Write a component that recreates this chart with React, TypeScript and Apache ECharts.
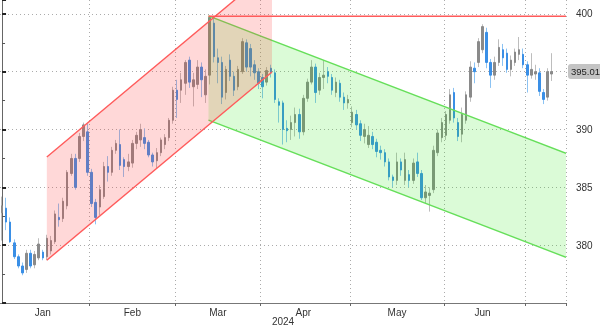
import React, { useEffect, useRef } from 'react';
import * as echarts from 'echarts';

// Each candle: [open, close, low, high]
const janCandles = [
  [382.8, 383.4, 380.4, 384.2], [383.2, 382.0, 381.3, 384.1], [382.0, 380.3, 380.2, 382.4], [380.2, 379.0, 378.8, 380.5],
  [379.0, 378.2, 378.0, 379.2], [378.2, 377.6, 377.4, 378.5], [377.9, 379.3, 377.6, 379.6], [379.3, 378.2, 378.0, 379.6],
  [378.3, 379.2, 378.0, 379.5], [378.9, 380.1, 378.7, 380.6], [379.4, 378.9, 378.7, 379.6], [379.0, 380.6, 378.7, 380.9],
  [379.5, 380.4, 379.2, 380.8], [380.3, 382.7, 380.1, 383.0], [382.4, 382.2, 381.6, 383.6], [382.3, 383.8, 382.0, 384.1],
  [383.4, 386.3, 383.1, 386.5], [386.2, 387.5, 386.0, 387.9], [387.5, 385.0, 384.8, 387.9], [387.5, 389.4, 387.2, 389.7],
  [389.4, 390.4, 389.0, 390.6], [389.8, 386.3, 386.0, 390.5],
];
const febCandles = [
  [386.3, 383.6, 383.3, 386.6], [383.7, 382.4, 381.8, 384.0], [383.3, 384.8, 382.6, 385.2], [384.2, 386.8, 384.0, 387.2],
  [386.8, 386.3, 385.5, 387.7], [386.3, 388.2, 386.0, 388.5], [388.2, 388.8, 387.9, 389.1], [388.7, 386.9, 386.5, 390.0],
  [387.4, 386.8, 385.9, 387.6], [386.8, 387.2, 386.4, 387.9], [387.1, 388.8, 386.7, 389.1], [388.8, 389.5, 388.3, 389.8],
  [389.1, 390.0, 388.5, 390.5], [389.3, 388.8, 388.3, 390.1], [388.9, 387.8, 387.6, 389.1], [387.8, 387.2, 386.8, 388.0],
  [387.3, 388.0, 386.6, 388.4], [388.0, 389.1, 387.7, 389.3], [388.7, 389.3, 388.3, 389.6], [389.3, 390.8, 389.0, 391.0],
  [390.8, 393.4, 390.5, 393.7],
];
const marCandles = [
  [393.4, 392.6, 391.0, 394.3], [393.4, 394.3, 392.3, 394.9], [394.0, 395.8, 393.0, 396.0], [396.0, 394.1, 393.6, 396.3],
  [393.7, 394.3, 392.0, 394.9], [393.9, 395.4, 393.5, 396.0], [395.4, 394.3, 392.8, 395.8], [393.0, 394.6, 392.3, 395.2],
  [394.7, 399.7, 393.9, 399.8], [399.2, 396.3, 395.8, 399.6], [396.2, 395.8, 394.0, 397.0], [395.8, 392.8, 392.2, 396.3],
  [393.2, 395.2, 392.6, 395.5], [396.0, 394.6, 394.2, 396.5], [394.6, 393.4, 392.9, 395.0], [393.7, 395.2, 393.4, 395.5],
  [395.0, 397.6, 394.8, 397.9], [397.5, 395.4, 395.0, 397.8], [397.0, 395.4, 394.6, 397.4], [395.6, 394.9, 394.3, 396.0],
  [395.0, 394.0, 393.5, 395.3],
];
const aprCandles = [
  [394.5, 393.7, 392.7, 394.8], [394.1, 395.1, 393.8, 395.4], [395.3, 394.9, 394.5, 395.6], [394.9, 392.6, 392.3, 395.2],
  [392.4, 392.1, 390.6, 392.7], [392.3, 390.0, 388.7, 392.5], [390.1, 389.9, 388.9, 390.8], [390.0, 390.6, 389.1, 391.2],
  [390.6, 391.3, 389.4, 391.9], [391.3, 389.8, 389.2, 391.8], [389.8, 392.7, 389.5, 393.0], [392.7, 394.1, 392.4, 394.4],
  [394.1, 395.4, 393.9, 396.0], [395.4, 393.2, 392.3, 395.7], [393.4, 394.5, 393.0, 394.9], [394.5, 394.7, 393.5, 396.0],
  [395.0, 394.6, 394.0, 395.4], [394.5, 393.4, 393.0, 394.8], [393.2, 394.1, 392.8, 394.5], [394.0, 392.8, 392.4, 394.3],
  [392.8, 392.3, 391.7, 393.2], [392.3, 392.6, 391.8, 393.0],
];
const mayCandles = [
  [390.6, 391.5, 390.2, 392.0], [391.3, 390.4, 390.0, 391.7], [390.5, 389.5, 389.0, 390.8], [389.4, 390.0, 388.8, 390.5],
  [388.7, 389.5, 388.4, 390.3], [389.4, 388.7, 388.3, 389.8], [388.9, 388.1, 387.6, 389.2], [388.2, 388.0, 387.4, 388.6],
  [388.0, 387.2, 386.8, 388.3], [387.2, 385.9, 385.6, 387.5], [385.9, 385.6, 385.0, 386.1], [385.6, 387.2, 385.2, 388.0],
  [387.2, 386.5, 386.0, 387.5], [385.6, 387.4, 385.2, 388.0], [386.1, 385.6, 385.0, 386.5], [385.6, 387.1, 385.3, 387.5],
  [387.2, 386.2, 385.9, 388.0], [386.2, 384.1, 383.9, 386.5], [384.1, 384.6, 383.6, 385.2], [384.3, 384.5, 382.9, 385.0],
  [384.8, 388.2, 384.5, 388.6], [388.0, 389.7, 387.7, 390.0], [389.3, 390.6, 388.9, 391.0],
];
const junCandles = [
  [389.5, 391.3, 389.1, 391.6], [390.8, 393.0, 390.5, 393.5], [393.2, 391.0, 390.6, 393.6], [390.6, 389.4, 389.0, 391.0],
  [389.6, 391.3, 388.9, 391.9], [390.8, 393.0, 390.5, 393.3], [392.8, 395.4, 392.4, 395.9], [395.3, 395.0, 394.0, 395.8],
  [395.8, 397.6, 395.4, 397.9], [396.9, 398.9, 396.6, 399.1], [398.4, 395.8, 395.3, 398.8], [395.8, 394.7, 393.6, 396.1],
  [394.7, 395.8, 394.3, 396.3], [395.8, 397.1, 395.5, 397.8], [396.9, 396.2, 395.5, 397.4], [396.6, 395.2, 394.9, 397.0],
  [395.2, 396.0, 394.6, 396.4], [395.8, 396.7, 395.5, 397.0], [396.5, 396.9, 396.0, 398.0], [396.5, 395.6, 395.3, 397.0],
];
const julCandles = [
  [395.6, 394.7, 393.2, 395.9], [394.7, 395.2, 394.4, 396.6], [394.8, 395.0, 394.3, 395.6], [394.9, 393.3, 392.9, 395.3],
  [393.2, 392.6, 392.2, 393.5], [392.8, 395.0, 392.5, 395.3], [394.8, 395.01, 394.2, 396.6],
];

const monthLabels = ['Jan', 'Feb', 'Mar', 'Apr', 'May', 'Jun'];
const yearLabel = '2024';
const firstDay = '2024-01-02';
const lastDay = '2024-07-12';
const lastPrice = 395.01;
const yMin = 375;
const yMax = 401.2;
const yStep = 5;
const hiddenYLabels = [375, 395];

// Channels in data space: [xStart, lowerStart, xEnd, lowerEnd, width]
const redChannel = [11, 378.7, 66.3, 394.98, 8.92];
const greenChannel = [50.7, 390.82, 138.5, 378.95, 9.0];
// Peak level line: [xStart, xEnd, level]
const peakLine = [50.7, 138.5, 399.8];

function buildDates(a: string, b: string): string[] {
  const out: string[] = [];
  const d = new Date(a + 'T00:00:00Z');
  const end = new Date(b + 'T00:00:00Z');
  while (d <= end) {
    const wd = d.getUTCDay();
    if (wd !== 0 && wd !== 6) out.push(d.toISOString().slice(0, 10));
    d.setUTCDate(d.getUTCDate() + 1);
  }
  return out;
}

const monthOf = (s: string) => Number(s.slice(5, 7)) - 1;

export default function App() {
  const ref = useRef<HTMLDivElement>(null);
  useEffect(() => {
    if (!ref.current) return;
    const chart = echarts.init(ref.current, undefined, { renderer: 'svg' });
    const dates = buildDates(firstDay, lastDay);
    const candles = [...janCandles, ...febCandles, ...marCandles, ...aprCandles, ...mayCandles, ...junCandles, ...julCandles];
    const bodies = candles.map(([o, c]) => [o, c, Math.min(o, c), Math.max(o, c)]);

    const monthStarts = new Set<number>();
    dates.forEach((d, i) => {
      if (i > 0 && monthOf(d) !== monthOf(dates[i - 1])) monthStarts.add(i);
    });
    const labelIdx = new Set<number>();
    monthLabels.forEach((_, m) => {
      const idx = dates.map((d, i) => (monthOf(d) === m ? i : -1)).filter((i) => i >= 0);
      if (idx.length) labelIdx.add(Math.floor((idx[0] + idx[idx.length - 1]) / 2));
    });

    const font = 'Liberation Sans, Arial, sans-serif';
    const gridDot = { type: [1, 3] as any, color: '#ababab', width: 1 };

    const channelRender = (fill: string, stroke: string) => (params: any, api: any) => {
      const x0 = api.value(0), l0 = api.value(1), x1 = api.value(2), l1 = api.value(3), w = api.value(4);
      const p1 = api.coord([x0, l0]);
      const p2 = api.coord([x1, l1]);
      const p3 = api.coord([x1, l1 + w]);
      const p4 = api.coord([x0, l0 + w]);
      return {
        type: 'group',
        children: [
          { type: 'polygon', shape: { points: [p1, p2, p3, p4] }, style: { fill } },
          { type: 'line', shape: { x1: p1[0], y1: p1[1], x2: p2[0], y2: p2[1] }, style: { stroke, lineWidth: 1.4 } },
          { type: 'line', shape: { x1: p4[0], y1: p4[1], x2: p3[0], y2: p3[1] }, style: { stroke, lineWidth: 1.4 } },
        ],
      };
    };

    chart.setOption({
      animation: false,
      textStyle: { fontFamily: font },
      grid: { left: 0, right: 34, top: 0, bottom: 24, containLabel: false, outerBoundsMode: 'none' },
      xAxis: [
        {
          type: 'category',
          data: dates,
          boundaryGap: true,
          axisLine: { show: true, lineStyle: { color: '#777' } },
          axisTick: { show: true, interval: (i: number) => monthStarts.has(i), length: 3, lineStyle: { color: '#666' } },
          axisLabel: {
            interval: (i: number) => labelIdx.has(i),
            formatter: (v: string) => monthLabels[monthOf(v)] ?? '',
            margin: 4,
            color: '#333',
            fontSize: 10,
            fontFamily: font,
          },
          splitLine: { show: true, interval: (i: number) => monthStarts.has(i), lineStyle: gridDot },
          name: yearLabel,
          nameLocation: 'middle',
          nameGap: 13,
          nameMoveOverlap: false,
          nameTextStyle: { color: '#333', fontSize: 10, fontFamily: font, verticalAlign: 'top' },
        },
        { type: 'value', min: -0.5, max: dates.length - 0.5, show: false },
      ],
      yAxis: [
        {
          type: 'value',
          position: 'right',
          min: yMin,
          max: yMax,
          interval: yStep,
          axisLine: { show: true, lineStyle: { color: '#666' } },
          axisTick: { show: true, length: 4, lineStyle: { color: '#222', width: 2 } },
          minorTick: { show: true, splitNumber: 2, length: 3, lineStyle: { color: '#555' } },
          axisLabel: {
            margin: 10,
            color: '#333',
            fontSize: 10,
            fontFamily: font,
            showMaxLabel: false,
            formatter: (v: number) => (hiddenYLabels.includes(v) || Math.abs(v % yStep) > 1e-6 ? '' : String(v)),
          },
          splitLine: { show: true, showMinLine: false, showMaxLine: false, lineStyle: gridDot },
        },
      ],
      series: [
        {
          name: 'wicks',
          type: 'candlestick',
          xAxisIndex: 0,
          yAxisIndex: 0,
          data: candles,
          barWidth: 1,
          z: 2,
          itemStyle: { color: '#bdbdbd', color0: '#8cc3f3', borderColor: '#bdbdbd', borderColor0: '#8cc3f3', borderWidth: 1 },
        },
        {
          name: 'bodies',
          type: 'candlestick',
          xAxisIndex: 0,
          yAxisIndex: 0,
          data: bodies,
          barWidth: 2,
          z: 3,
          itemStyle: { color: '#8a8a8a', color0: '#3a8fe6', borderColor: '#8a8a8a', borderColor0: '#3a8fe6', borderWidth: 1 },
        },
        {
          name: 'last price',
          type: 'line',
          xAxisIndex: 1,
          yAxisIndex: 0,
          data: [],
          z: 10,
          clip: false,
          markLine: {
            silent: true,
            symbol: ['none', 'none'],
            lineStyle: { color: 'rgba(0,0,0,0)', width: 0 },
            label: {
              show: true,
              position: 'end',
              formatter: lastPrice.toFixed(2),
              backgroundColor: '#c4c4c4',
              color: '#222',
              padding: [3, 3, 2, 3],
              borderRadius: 3,
              fontSize: 9.5,
              fontFamily: font,
              distance: 2,
            },
            data: [{ yAxis: lastPrice }],
          },
        },
        {
          name: 'green channel',
          type: 'custom',
          xAxisIndex: 1,
          yAxisIndex: 0,
          z: 5,
          clip: true,
          encode: { x: [0, 2], y: [1, 3] },
          data: [greenChannel],
          renderItem: channelRender('rgba(40, 230, 20, 0.17)', '#66df5a'),
        },
        {
          name: 'red channel',
          type: 'custom',
          xAxisIndex: 1,
          yAxisIndex: 0,
          z: 6,
          clip: true,
          encode: { x: [0, 2], y: [1, 3] },
          data: [redChannel],
          renderItem: channelRender('rgba(255, 60, 60, 0.2)', '#ff5b5b'),
        },
        {
          name: 'peak',
          type: 'custom',
          xAxisIndex: 1,
          yAxisIndex: 0,
          z: 7,
          clip: true,
          encode: { x: [0, 1], y: 2 },
          data: [peakLine],
          renderItem: (params: any, api: any) => {
            const a = api.coord([api.value(0), api.value(2)]);
            const b = api.coord([api.value(1), api.value(2)]);
            return { type: 'line', shape: { x1: a[0], y1: a[1], x2: b[0], y2: b[1] }, style: { stroke: '#ff5b5b', lineWidth: 1.6 } };
          },
        },
      ],
    });
    return () => chart.dispose();
  }, []);
  return <div ref={ref} style={{ position: 'fixed', left: 0, top: 0, width: 600, height: 327 }} />;
}
